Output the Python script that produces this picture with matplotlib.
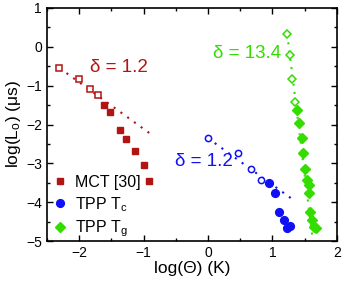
import matplotlib
matplotlib.use("Agg")
import matplotlib.pyplot as plt
import numpy as np
from matplotlib.ticker import MultipleLocator

plt.rcParams['font.family'] = ['Liberation Sans', 'DejaVu Sans']
plt.rcParams['mathtext.fontset'] = 'custom'
plt.rcParams['mathtext.rm'] = 'Liberation Sans'
plt.rcParams['mathtext.it'] = 'Liberation Sans'

RED = '#B21414'
BLUE = '#1010F5'
GREEN = '#33DD00'

# MCT [30]
mct_open_x = [-2.31, -2.00, -1.835, -1.71]
mct_open_y = [-0.55, -0.825, -1.09, -1.25]
mct_fill_x = [-1.616, -1.515, -1.36, -1.27, -1.13, -0.985, -0.92]
mct_fill_y = [-1.49, -1.67, -2.15, -2.37, -2.69, -3.04, -3.46]
mct_fit_x = [-2.30, -0.85]
mct_delta = 1.2
mct_fit_y0 = -0.55

# TPP Tc
tc_open_x = [0.0, 0.468, 0.673, 0.828]
tc_open_y = [-2.35, -2.735, -3.15, -3.44]
tc_fill_x = [0.947, 1.04, 1.10, 1.18, 1.23, 1.27]
tc_fill_y = [-3.51, -3.75, -4.24, -4.45, -4.66, -4.62]
tc_fit_x = [0.0, 1.36]
tc_delta = 1.2
tc_fit_y0 = -2.35

# TPP Tg
tg_open_x = [1.23, 1.27, 1.307, 1.35]
tg_open_y = [0.33, -0.21, -0.83, -1.41]
tg_fill_x = [1.384, 1.42, 1.46, 1.47, 1.50, 1.54, 1.57, 1.575, 1.59, 1.615, 1.64, 1.67]
tg_fill_y = [-1.62, -1.95, -2.35, -2.735, -3.15, -3.44, -3.55, -3.75, -4.24, -4.45, -4.64, -4.66]
tg_fit_x = [1.23, 1.628]
tg_delta = 13.4
tg_fit_y0 = 0.33

fig = plt.figure(figsize=(3.42, 2.85), dpi=100)
ax = fig.add_axes([0.137, 0.154, 0.848, 0.818])

def fit_line(xs, x0, y0, d):
    xs = np.array(xs)
    return xs, y0 - d * (xs - x0)

for fx, y0, d, c in [(mct_fit_x, mct_fit_y0, mct_delta, RED),
                     (tc_fit_x, tc_fit_y0, tc_delta, BLUE),
                     (tg_fit_x, tg_fit_y0, tg_delta, GREEN)]:
    lx, ly = fit_line(fx, fx[0], y0, d)
    ax.plot(lx, ly, linestyle=(0, (1, 3)), color=c, lw=1.5, zorder=1)

ax.plot(mct_open_x, mct_open_y, 's', ms=4.3, mfc='white', mec=RED, mew=1.1, zorder=3)
ax.plot(mct_fill_x, mct_fill_y, 's', ms=4.6, color=RED, zorder=3, label='MCT [30]')
ax.plot(tc_open_x, tc_open_y, 'o', ms=4.5, mfc='white', mec=BLUE, mew=1.1, zorder=3)
ax.plot(tc_fill_x, tc_fill_y, 'o', ms=5.6, color=BLUE, zorder=3, label='TPP T$_\\mathregular{c}$')
ax.plot(tg_open_x, tg_open_y, 'D', ms=4.5, mfc='white', mec=GREEN, mew=1.1, zorder=3)
ax.plot(tg_fill_x, tg_fill_y, 'D', ms=5.0, color=GREEN, zorder=3, label='TPP T$_\\mathregular{g}$')

ax.text(-1.835, -0.54, '\u03b4 = %.1f' % mct_delta, color=RED, fontsize=13.5, va='center', ha='left')
ax.text(-0.506, -2.96, '\u03b4 = %.1f' % tc_delta, color=BLUE, fontsize=13.5, va='center', ha='left')
ax.text(0.08, -0.16, '\u03b4 = %.1f' % tg_delta, color=GREEN, fontsize=13.5, va='center', ha='left')

ax.set_xlim(-2.5, 2)
ax.set_ylim(-5, 1)
ax.xaxis.set_major_locator(MultipleLocator(1))
ax.xaxis.set_minor_locator(MultipleLocator(0.5))
ax.yaxis.set_major_locator(MultipleLocator(1))
ax.yaxis.set_minor_locator(MultipleLocator(0.5))
ax.tick_params(which='both', direction='in', top=True, right=True, labelsize=10, width=1)
ax.tick_params(which='major', length=4)
ax.tick_params(which='minor', length=2.5)
for s in ax.spines.values():
    s.set_linewidth(1.2)

ax.set_xlabel('log(\u0398) (K)', fontsize=12.5, labelpad=1)
ax.set_ylabel('log(L$_\\mathregular{o}$) (\u03bcs)', fontsize=12.5, labelpad=2)

leg = ax.legend(loc='lower left', frameon=False, fontsize=11.5, handletextpad=0.45,
                borderaxespad=0.0, labelspacing=0.3, handlelength=1.0,
                bbox_to_anchor=(-0.005, -0.018))

fig.savefig('out.png', dpi=100)
